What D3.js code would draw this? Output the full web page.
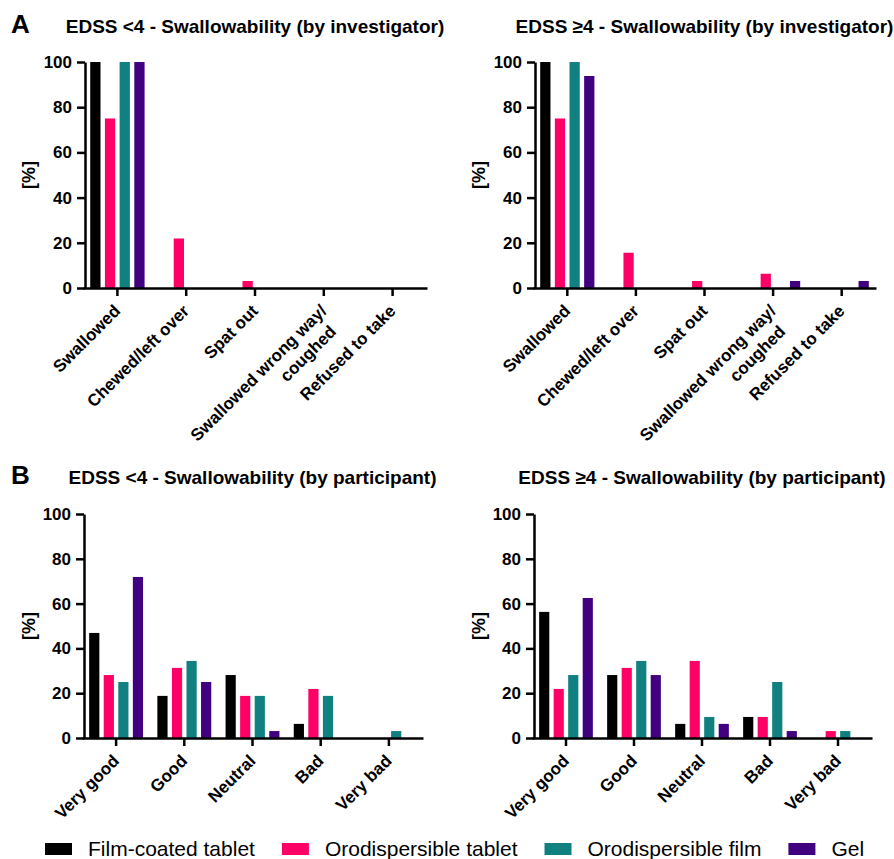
<!DOCTYPE html>
<html>
<head>
<meta charset="utf-8">
<script src="https://cdn.jsdelivr.net/npm/d3@7"></script>
<style>
  body { margin: 0; background: #fff; }
  svg { display: block; font-family: "Liberation Sans", Arial, sans-serif; }
</style>
</head>
<body>
<svg id="chart" width="894" height="859"></svg>
<script>
/* data, in % */
var seriesNames = ["Film-coated tablet", "Orodispersible tablet", "Orodispersible film", "Gel"];
var seriesColors = ["#000000", "#ff0066", "#108080", "#400080"];

var investigatorCats = ["Swallowed", "Chewed/left over", "Spat out", "Swallowed wrong way/|coughed", "Refused to take"];
var participantCats = ["Very good", "Good", "Neutral", "Bad", "Very bad"];
var yTicks = [0, 20, 40, 60, 80, 100];

// one row per series: film-coated, orodispersible tablet, orodispersible film, gel
var invLow = [
  [100, 0, 0, 0, 0],
  [75, 21.9, 3.1, 0, 0],
  [100, 0, 0, 0, 0],
  [100, 0, 0, 0, 0]
];
var invHigh = [
  [100, 0, 0, 0, 0],
  [75, 15.6, 3.1, 6.3, 0],
  [100, 0, 0, 0, 0],
  [93.8, 0, 0, 3.1, 3.1]
];
var partLow = [
  [46.9, 18.8, 28.1, 6.3, 0],
  [28.1, 31.3, 18.8, 21.9, 0],
  [25, 34.4, 18.8, 18.8, 3.1],
  [71.9, 25, 3.1, 0, 0]
];
var partHigh = [
  [56.3, 28.1, 6.3, 9.4, 0],
  [21.9, 31.3, 34.4, 9.4, 3.1],
  [28.1, 34.4, 9.4, 25, 3.1],
  [62.5, 28.1, 6.3, 3.1, 0]
];

var svg = d3.select("#chart");

function drawPanel(p){
	var x = d3.scaleBand()
		.domain(p.cats)
		.range([p.x0, p.x1])
		.paddingInner(0.21)
		.paddingOuter(0.105);
	var xs = d3.scaleBand()
		.domain(d3.range(seriesNames.length))
		.range([0, x.bandwidth()])
		.paddingInner(0.3);
	var y = d3.scaleLinear().domain([0, 100]).range([p.yBase, p.yTop]);

	var g = svg.append("g");

	/* bars */
	var groups = g.selectAll(".series")
		.data(p.values)
		.enter().append("g")
			.attr("fill", function(d, i){ return seriesColors[i]; });
	groups.selectAll("rect")
		.data(function(d, i){ return d.map(function(v, j){ return {s: i, c: p.cats[j], v: v}; }); })
		.enter().append("rect")
			.attr("x", function(d){ return x(d.c) + xs(d.s); })
			.attr("width", xs.bandwidth())
			.attr("y", function(d){ return y(d.v); })
			.attr("height", function(d){ return y(0) - y(d.v); });

	/* y axis */
	var yAxisG = g.append("g")
		.attr("transform", "translate(" + (p.x0 + 2) + ",0)")
		.call(d3.axisLeft(y).tickValues(yTicks).tickSize(8).tickSizeOuter(0).tickPadding(5));

	/* x axis */
	var xAxisG = g.append("g")
		.attr("transform", "translate(0," + p.yBase + ")")
		.call(d3.axisBottom(x).tickSize(8).tickSizeOuter(0));
	xAxisG.selectAll(".tick text").remove();

	[yAxisG, xAxisG].forEach(function(a){
		a.select(".domain").attr("stroke", "#000").attr("stroke-width", 2.5);
		a.selectAll(".tick line").attr("stroke", "#000").attr("stroke-width", 2.5);
	});
	yAxisG.selectAll(".tick text")
		.attr("fill", "#000")
		.style("font-size", "17px")
		.style("font-weight", "bold");

	// rotated category labels, end anchored just under the tick
	xAxisG.selectAll(".tick")
		.append("text")
			.attr("transform", "translate(4,24) rotate(-45)")
			.attr("text-anchor", "end")
			.attr("fill", "#000")
			.style("font-size", "17px")
			.style("font-weight", "bold")
			.each(function(d){
				var lines = d.split("|");
				var t = d3.select(this);
				lines.forEach(function(l, k){
					t.append("tspan")
						.attr("x", k ? -8 : 0)
						.attr("dy", k ? "1.25em" : 0)
						.text(l);
				});
			});

	/* y legend */
	g.append("text")
		.attr("transform", "translate(" + p.yLabelX + "," + (p.yBase + p.yTop) / 2 + ") rotate(-90)")
		.attr("text-anchor", "middle")
		.style("font-size", "18px")
		.style("font-weight", "bold")
		.text("[%]");

	/* title */
	g.append("text")
		.attr("x", (p.x0 + p.x1) / 2)
		.attr("y", p.titleY)
		.attr("text-anchor", "middle")
		.style("font-size", "19px")
		.style("font-weight", "bold")
		.text(p.title);

	if (p.letter) {
		g.append("text")
			.attr("x", 11)
			.attr("y", p.titleY)
			.style("font-size", "26px")
			.style("font-weight", "bold")
			.text(p.letter);
	}
}

drawPanel({x0: 83, x1: 427, yBase: 288, yTop: 62, cats: investigatorCats, values: invLow,
	title: "EDSS <4 - Swallowability (by investigator)", titleY: 33, yLabelX: 35, letter: "A"});
drawPanel({x0: 533, x1: 876, yBase: 288, yTop: 62, cats: investigatorCats, values: invHigh,
	title: "EDSS \u22654 - Swallowability (by investigator)", titleY: 33, yLabelX: 485});
drawPanel({x0: 82, x1: 423, yBase: 738, yTop: 514, cats: participantCats, values: partLow,
	title: "EDSS <4 - Swallowability (by participant)", titleY: 484, yLabelX: 35, letter: "B"});
drawPanel({x0: 532, x1: 872, yBase: 738, yTop: 514, cats: participantCats, values: partHigh,
	title: "EDSS \u22654 - Swallowability (by participant)", titleY: 484, yLabelX: 485});

/* color legend, laid out left to right */
var legend = svg.append("g").attr("transform", "translate(45,856)");
var lx = 0;
seriesNames.forEach(function(name, i){
	var item = legend.append("g").attr("transform", "translate(" + lx + ",0)");
	item.append("rect")
		.attr("x", 0).attr("y", -13)
		.attr("width", 27).attr("height", 12)
		.attr("fill", seriesColors[i]);
	var t = item.append("text")
		.attr("x", 43)
		.style("font-size", "21px")
		.text(name);
	lx += 43 + t.node().getComputedTextLength() + 27;
});
</script>
</body>
</html>
